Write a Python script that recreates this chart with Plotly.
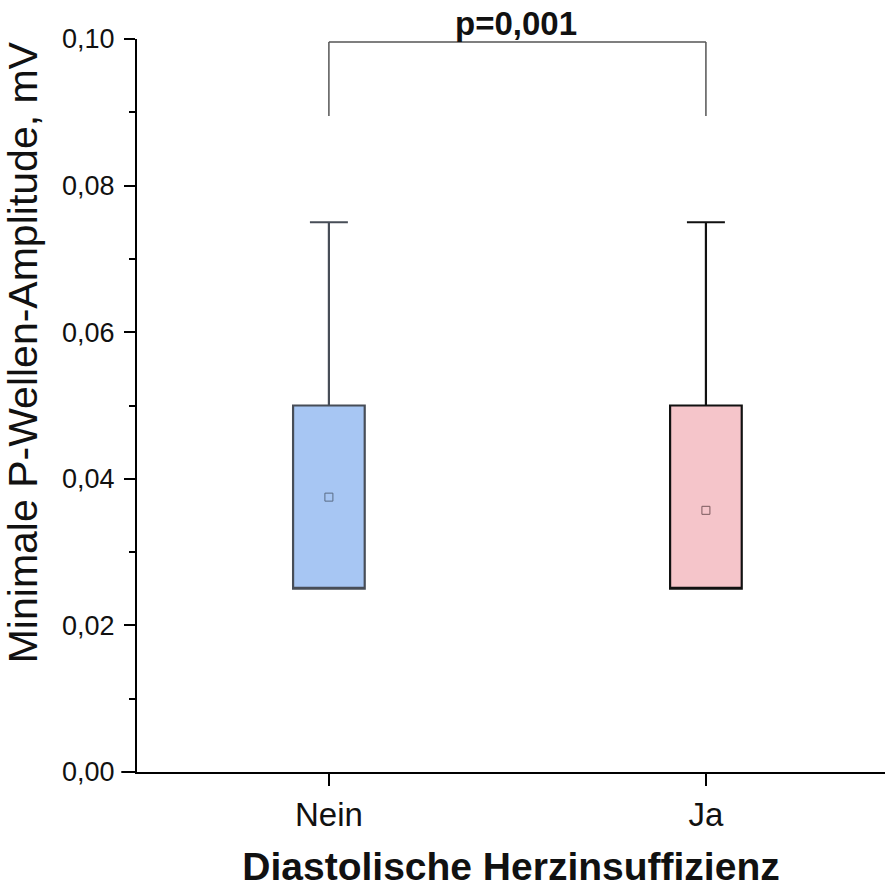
import plotly.graph_objects as go

categories = ["Nein", "Ja"]
q1 = [0.025, 0.025]
median = [0.025, 0.025]
q3 = [0.050, 0.050]
lower = [0.025, 0.025]
upper = [0.075, 0.075]
means = [0.0375, 0.0357]
p_text = "p=0,001"
y_title = "Minimale P-Wellen-Amplitude, mV"
x_title = "Diastolische Herzinsuffizienz"

fills = ["#a7c6f3", "#f5c5ca"]
lines = ["#474d57", "#111111"]
mean_lines = ["#5a6b84", "#7a5a5e"]

fig = go.Figure()
for i, c in enumerate(categories):
    fig.add_trace(go.Box(
        x=[c], q1=[q1[i]], median=[median[i]], q3=[q3[i]],
        lowerfence=[lower[i]], upperfence=[upper[i]],
        fillcolor=fills[i], line=dict(color=lines[i], width=2.2),
        width=0.19, whiskerwidth=0.53, boxpoints=False, showlegend=False,
        hoverinfo="skip",
    ))
    fig.add_trace(go.Scatter(
        x=[c], y=[means[i]], mode="markers",
        marker=dict(symbol="square-open", size=8, color=mean_lines[i], line=dict(width=1)),
        showlegend=False, hoverinfo="skip",
    ))

br_top = 0.0996
br_bot = 0.0895
fig.add_shape(type="line", xref="x", yref="y", x0=categories[0], x1=categories[1],
              y0=br_top, y1=br_top, line=dict(color="#555555", width=1.5))
for c in categories:
    fig.add_shape(type="line", xref="x", yref="y", x0=c, x1=c,
                  y0=br_bot, y1=br_top, line=dict(color="#555555", width=1.5))
fig.add_annotation(x=0.495, y=br_top, xref="x", yref="y", text="<b>%s</b>" % p_text,
                   showarrow=False, yanchor="bottom", yshift=-2,
                   font=dict(size=33, color="#111111", family="Liberation Sans"))

# y-axis title placed as rotated annotation (offset upward like the reference)
fig.add_annotation(x=-0.152, y=0.573, xref="paper", yref="paper", text=y_title,
                   textangle=-90, showarrow=False, xanchor="center", yanchor="middle",
                   font=dict(size=41, color="#111111", family="Liberation Sans"))

# small extension of x axis line left of the y axis
fig.add_shape(type="line", xref="paper", yref="paper", x0=-0.021, x1=0, y0=0, y1=0,
              line=dict(color="black", width=2))

fig.update_layout(
    width=885, height=888,
    margin=dict(l=137, r=0, t=39, b=116),
    paper_bgcolor="white", plot_bgcolor="white",
    separators=", ",
    font=dict(family="Liberation Sans", color="#111111"),
)
fig.update_xaxes(
    type="category", categoryorder="array", categoryarray=categories,
    range=[-0.509, 1.475],
    showline=True, linecolor="black", linewidth=2,
    ticks="outside", ticklen=12, tickwidth=2, tickcolor="black",
    ticklabelstandoff=0,
    tickfont=dict(size=33, color="#111111"),
    showgrid=False, zeroline=False,
    title=dict(text="<b>%s</b>" % x_title, font=dict(size=39, color="#111111"), standoff=27),
)
fig.update_yaxes(
    range=[0, 0.10], tick0=0, dtick=0.02, tickformat=".2f",
    showline=True, linecolor="black", linewidth=2,
    ticks="outside", ticklen=11, tickwidth=2, tickcolor="black",
    ticklabelstandoff=4,
    minor=dict(ticks="outside", ticklen=6, tickwidth=2, tickcolor="black", dtick=0.01),
    tickfont=dict(size=27, color="#111111"),
    showgrid=False, zeroline=False,
)

fig.write_html("out.html")
